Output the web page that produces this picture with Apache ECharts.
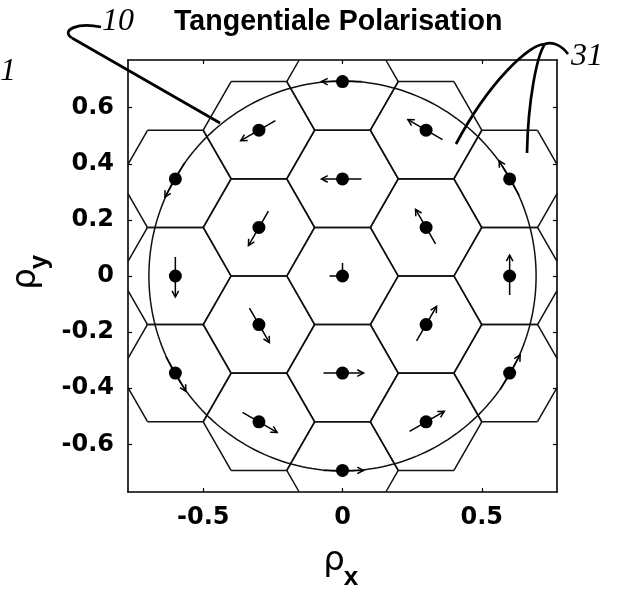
<!DOCTYPE html>
<html lang="de">
<head>
<meta charset="UTF-8">
<title>Tangentiale Polarisation</title>
<style>
  html, body { margin: 0; padding: 0; background: #fff; }
  #main { width: 619px; height: 594px; }
</style>
</head>
<body>
<div id="main"></div>
<script src="https://cdn.jsdelivr.net/npm/echarts@6.0.0/dist/echarts.min.js"></script>
<script>
// spot centres in the pupil (rho_x, rho_y); every spot sits in its own hexagonal cell
const spotX = [0, 0, 0, -0.3, 0.3, -0.3, 0.3, 0, 0, -0.3, 0.3, -0.3, 0.3, -0.6, 0.6, -0.6, 0.6, -0.6, 0.6]
const spotY = [0, 0.346, -0.346, 0.173, 0.173, -0.173, -0.173, 0.693, -0.693, 0.52, 0.52, -0.52, -0.52, 0, 0, 0.346, 0.346, -0.346, -0.346]
// polarisation direction of each spot in degrees (null = centre spot, no direction)
const polDir = [null, 180, 0, 240, 120, 300, 60, 180, 0, 210, 150, 330, 30, 270, 90, 240, 120, 300, 60]
const cellRadius = 0.2
const pupilRadius = 0.695
const xTicks = [-0.5, 0, 0.5]
const yTicks = [-0.6, -0.4, -0.2, 0, 0.2, 0.4, 0.6]
const axisMin = -0.77
const axisMax = 0.77

const spots = spotX.map((x, i) => [x, spotY[i]])

// cut a segment to the axes box (Liang-Barsky)
function clipSeg(x0, y0, x1, y1) {
  let t0 = 0, t1 = 1
  const dx = x1 - x0, dy = y1 - y0
  const p = [-dx, dx, -dy, dy]
  const q = [x0 - axisMin, axisMax - x0, y0 - axisMin, axisMax - y0]
  for (let i = 0; i < 4; i++) {
    if (Math.abs(p[i]) < 1e-12) {
      if (q[i] < 0) return null
      continue
    }
    const t = q[i] / p[i]
    if (p[i] < 0) {
      if (t > t1) return null
      if (t > t0) t0 = t
    } else {
      if (t < t0) return null
      if (t < t1) t1 = t
    }
  }
  return [x0 + t0 * dx, y0 + t0 * dy, x0 + t1 * dx, y0 + t1 * dy]
}

function renderCell(params, api) {
  const cx = api.value(0), cy = api.value(1)
  const children = []
  for (let k = 0; k < 6; k++) {
    const a0 = k * Math.PI / 3, a1 = (k + 1) * Math.PI / 3
    const seg = clipSeg(
      cx + cellRadius * Math.cos(a0), cy + cellRadius * Math.sin(a0),
      cx + cellRadius * Math.cos(a1), cy + cellRadius * Math.sin(a1)
    )
    if (!seg) continue
    const p0 = api.coord([seg[0], seg[1]])
    const p1 = api.coord([seg[2], seg[3]])
    children.push({
      type: 'line',
      shape: { x1: p0[0], y1: p0[1], x2: p1[0], y2: p1[1] },
      style: { stroke: '#111', lineWidth: 1.5 }
    })
  }
  return { type: 'group', children }
}

function renderPupil(params, api) {
  const pts = []
  for (let k = 0; k <= 240; k++) {
    const a = k / 240 * 2 * Math.PI
    pts.push(api.coord([pupilRadius * Math.cos(a), pupilRadius * Math.sin(a)]))
  }
  return {
    type: 'polyline',
    shape: { points: pts },
    style: { stroke: '#111', lineWidth: 1.5, fill: null }
  }
}

function renderArrow(params, api) {
  const c = api.coord([api.value(0), api.value(1)])
  const dir = polDir[params.dataIndex]
  const st = { stroke: '#000', lineWidth: 1.5, fill: null }
  if (dir == null) {
    return {
      type: 'group',
      children: [
        { type: 'line', shape: { x1: c[0] - 13, y1: c[1], x2: c[0], y2: c[1] }, style: st },
        { type: 'line', shape: { x1: c[0], y1: c[1] - 13, x2: c[0], y2: c[1] }, style: st }
      ]
    }
  }
  const a = dir * Math.PI / 180
  const ux = Math.cos(a), uy = -Math.sin(a)
  const hx = c[0] + ux * 21, hy = c[1] + uy * 21
  const tx = c[0] - ux * 19, ty = c[1] - uy * 19
  const back = Math.atan2(-uy, -ux)
  const w = 28 * Math.PI / 180, L = 7
  return {
    type: 'group',
    children: [
      { type: 'line', shape: { x1: tx, y1: ty, x2: hx, y2: hy }, style: st },
      {
        type: 'polyline',
        shape: {
          points: [
            [hx + L * Math.cos(back + w), hy + L * Math.sin(back + w)],
            [hx, hy],
            [hx + L * Math.cos(back - w), hy + L * Math.sin(back - w)]
          ]
        },
        style: st
      }
    ]
  }
}

const tickFont = { color: '#000', fontFamily: 'DejaVu Sans', fontWeight: 'bold', fontSize: 24 }
const axisLine = { show: true, onZero: false, lineStyle: { color: '#000', width: 1.6 } }
const tickStyle = { color: '#000', width: 1.2 }
const leader = { stroke: '#000', lineWidth: 2.7, fill: null }

const myChart = echarts.init(document.getElementById('main'))
myChart.setOption({
  animation: false,
  backgroundColor: '#fff',
  title: {
    text: 'Tangentiale Polarisation',
    left: 174,
    top: 8,
    padding: 0,
    textStyle: { color: '#000', fontFamily: 'Liberation Sans', fontWeight: 'bold', fontSize: 28.6 }
  },
  grid: { left: 128, right: 62, top: 60, bottom: 102, containLabel: false },
  xAxis: [
    {
      type: 'value', position: 'bottom', min: axisMin, max: axisMax,
      axisLine,
      axisTick: { show: true, inside: true, length: 4, customValues: xTicks, lineStyle: tickStyle },
      axisLabel: Object.assign({ margin: 14, customValues: xTicks }, tickFont),
      splitLine: { show: false }
    },
    {
      type: 'value', position: 'top', min: axisMin, max: axisMax,
      axisLine,
      axisTick: { show: true, inside: true, length: 4, customValues: xTicks, lineStyle: tickStyle },
      axisLabel: { show: false },
      splitLine: { show: false }
    }
  ],
  yAxis: [
    {
      type: 'value', position: 'left', min: axisMin, max: axisMax,
      axisLine,
      axisTick: { show: true, inside: true, length: 4, customValues: yTicks, lineStyle: tickStyle },
      axisLabel: Object.assign({ margin: 14, customValues: yTicks }, tickFont),
      splitLine: { show: false }
    },
    {
      type: 'value', position: 'right', min: axisMin, max: axisMax,
      axisLine,
      axisTick: { show: true, inside: true, length: 4, customValues: yTicks, lineStyle: tickStyle },
      axisLabel: { show: false },
      splitLine: { show: false }
    }
  ],
  series: [
    { type: 'custom', name: 'cells', data: spots, renderItem: renderCell, silent: true, z: 2 },
    { type: 'custom', name: 'pupil', data: [[0, 0]], renderItem: renderPupil, silent: true, z: 3 },
    { type: 'custom', name: 'arrows', data: spots, renderItem: renderArrow, silent: true, z: 4 },
    {
      type: 'scatter', name: 'spots', data: spots, symbol: 'circle', symbolSize: 13,
      itemStyle: { color: '#000', opacity: 1 }, silent: true, z: 5
    }
  ],
  graphic: [
    // axis names
    {
      type: 'group', x: 334, y: 561,
      children: [
        { type: 'text', style: { text: 'ρ', x: 0, y: 0, align: 'center', verticalAlign: 'middle', font: '34px "DejaVu Sans"', fill: '#000' } },
        { type: 'text', style: { text: 'x', x: 17, y: 17, align: 'center', verticalAlign: 'middle', font: 'bold 26px "Liberation Sans"', fill: '#000' } }
      ]
    },
    {
      type: 'group', x: 26, y: 279, rotation: Math.PI / 2,
      children: [
        { type: 'text', style: { text: 'ρ', x: 0, y: 0, align: 'center', verticalAlign: 'middle', font: '34px "DejaVu Sans"', fill: '#000' } },
        { type: 'text', style: { text: 'y', x: 17, y: 14, align: 'center', verticalAlign: 'middle', font: 'bold 26px "Liberation Sans"', fill: '#000' } }
      ]
    },
    // reference numerals and leader lines
    { type: 'text', style: { text: '10', x: 102, y: 22, verticalAlign: 'middle', font: 'italic 32px "Liberation Serif"', fill: '#000' } },
    { type: 'text', style: { text: '31', x: 571, y: 57, verticalAlign: 'middle', font: 'italic 32px "Liberation Serif"', fill: '#000' } },
    { type: 'text', style: { text: '11', x: 16, y: 72, align: 'right', verticalAlign: 'middle', font: 'italic 32px "Liberation Serif"', fill: '#000' } },
    { type: 'bezierCurve', shape: { x1: 101, y1: 27, cpx1: 78, cpy1: 22, cpx2: 60, cpy2: 30, x2: 72, y2: 38 }, style: leader },
    { type: 'line', shape: { x1: 72, y1: 38, x2: 220, y2: 123 }, style: leader },
    { type: 'bezierCurve', shape: { x1: 568, y1: 54, cpx1: 562, cpy1: 46, cpx2: 553, cpy2: 41, x2: 545, y2: 44 }, style: leader },
    { type: 'bezierCurve', shape: { x1: 545, y1: 44, cpx1: 530, cpy1: 44, cpx2: 490, cpy2: 80, x2: 456, y2: 144 }, style: leader },
    { type: 'bezierCurve', shape: { x1: 545, y1: 44, cpx1: 537, cpy1: 55, cpx2: 528, cpy2: 100, x2: 527, y2: 153 }, style: leader }
  ]
})
</script>
</body>
</html>
